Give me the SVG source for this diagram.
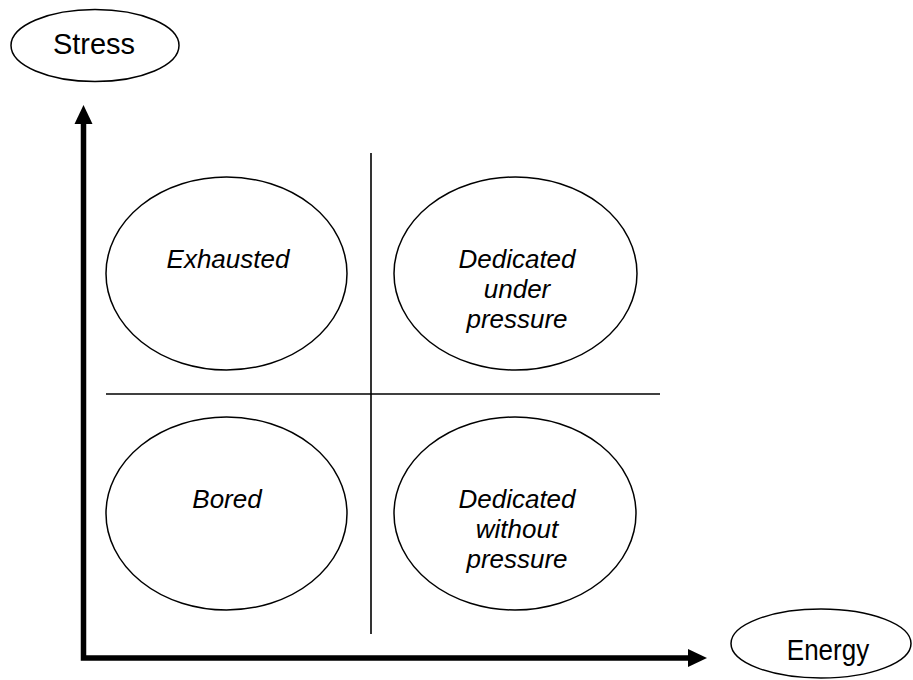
<svg xmlns="http://www.w3.org/2000/svg" width="913" height="680" viewBox="0 0 913 680">
<style>
.node{fill:#fff;stroke:#000;stroke-width:1.5}
.lbl{font-family:"Liberation Sans",Arial,sans-serif;font-size:26px;fill:#000;text-anchor:middle}
.it{font-style:italic}
.div{stroke:#000;stroke-width:1.6;fill:none}
.axis{stroke:#000;stroke-width:5.5;fill:none}
</style>
<defs>
<marker id="ah" viewBox="0 0 19 18" refX="0" refY="9" markerWidth="19" markerHeight="18" markerUnits="userSpaceOnUse" orient="auto">
<path d="M0,0 L19,9 L0,18 Z" fill="#000"/>
</marker>
</defs>
<rect width="913" height="680" fill="#fff"/>
<g id="connectors">
<line class="div" x1="371" y1="153" x2="371" y2="634"/>
<line class="div" x1="106" y1="394" x2="660" y2="394"/>
<polyline class="axis" points="83.5,124 83.5,658 688,658" stroke-linejoin="miter" marker-end="url(#ah)"/>
<path d="M83.5,105 L92.5,124 L74.5,124 Z" fill="#000"/>
</g>
<g id="stress">
<ellipse class="node" cx="95" cy="45.5" rx="84" ry="36"/>
<text class="lbl" x="94" y="54" style="font-size:29px">Stress</text>
</g>
<g id="energy">
<ellipse class="node" cx="821" cy="643.5" rx="90" ry="34.5"/>
<text class="lbl" transform="translate(828,660) scale(1,1.13)" x="0" y="0">Energy</text>
</g>
<g id="exhausted">
<ellipse class="node" cx="226.5" cy="273.5" rx="120.5" ry="96.5"/>
<text class="lbl it" x="228" y="268">Exhausted</text>
</g>
<g id="dedicated-under-pressure">
<ellipse class="node" cx="515.5" cy="273.5" rx="121.5" ry="96.5"/>
<text class="lbl it" x="517" y="268">Dedicated</text>
<text class="lbl it" x="517" y="298">under</text>
<text class="lbl it" x="517" y="328">pressure</text>
</g>
<g id="bored">
<ellipse class="node" cx="226.5" cy="513.5" rx="120.5" ry="96.5"/>
<text class="lbl it" x="227" y="508">Bored</text>
</g>
<g id="dedicated-without-pressure">
<ellipse class="node" cx="515" cy="513.5" rx="121" ry="96.5"/>
<text class="lbl it" x="517" y="508">Dedicated</text>
<text class="lbl it" x="517" y="538">without</text>
<text class="lbl it" x="517" y="568">pressure</text>
</g>
</svg>
